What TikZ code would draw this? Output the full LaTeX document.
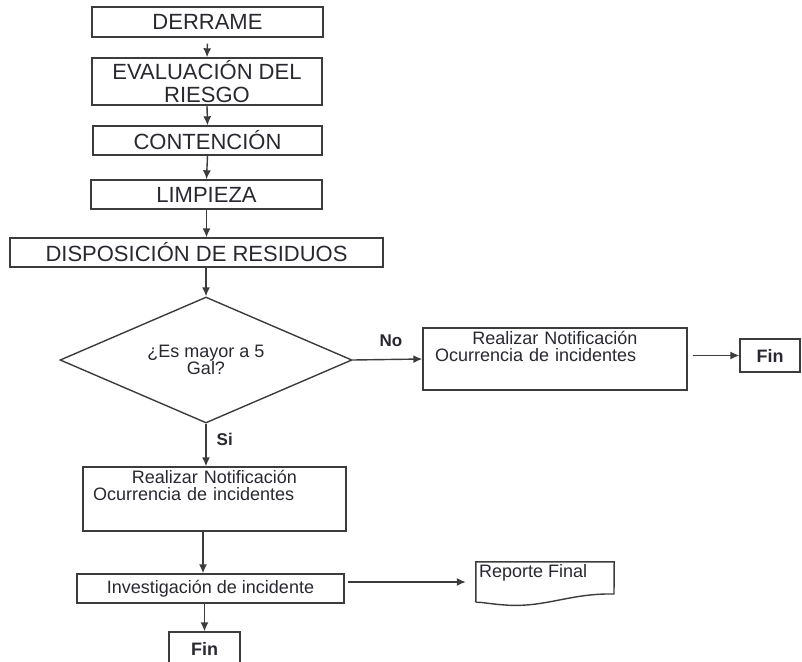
\documentclass[tikz,border=0pt]{standalone}
\usepackage{fontspec}
\setmainfont{Liberation Sans}
\usetikzlibrary{arrows.meta,shapes.geometric}
\definecolor{ink}{RGB}{40,40,48}
\definecolor{edge}{RGB}{60,60,60}
\begin{document}
\begin{tikzpicture}[x=1pt,y=-1pt,
    box/.style={draw=edge, line width=1.4pt, inner sep=0pt, text=ink},
    big/.style={font=\fontsize{22}{23}\selectfont},
    small/.style={font=\fontsize{18}{17}\selectfont},
    tag/.style={font=\fontsize{17}{17}\selectfont\bfseries, text=ink, inner sep=0pt},
    arr/.style={draw=edge, line width=1.4pt, -{Latex[length=9pt,width=8pt]}}]
    \useasboundingbox (0,0) rectangle (802,661);
    \clip (0,0) rectangle (802,661);
    \node[box, big, minimum width=231pt, minimum height=30pt] (derrame) at (207.5,22)
    {DERRAME}; \node[box, big, align=center, minimum width=230pt, minimum height=47pt]
    (eval) at (207,81.5) {EVALUACIÓN DEL\\RIESGO}; \node[box, big, minimum width=229pt,
    minimum height=29pt] (conten) at (207.5,140.5) {CONTENCIÓN}; \node[box, big,
    minimum width=231pt, minimum height=29pt] (limp) at (206.5,194.5) {LIMPIEZA};
    \node[box, big, minimum width=373pt, minimum height=29pt] (dispo) at (196.5,252.5)
    {DISPOSICIÓN DE RESIDUOS};
    \node[box, small, diamond, aspect=2.3, align=center, minimum width=292pt,
    minimum height=126pt] (gal) at (206,360) {¿Es mayor a 5\\Gal?};
    \node[box, minimum width=264pt, minimum height=62pt] (notiNo) at (555,359) {};
    \node[small, text=ink, text width=240pt, align=left, inner sep=0pt, anchor=north]
    (notiNoT) at ([yshift=-4pt]notiNo.north)
    {\makebox[\linewidth]{Realizar Notificación}\\Ocurrencia de incidentes};
    \node[box, font=\fontsize{18}{18}\selectfont\bfseries, minimum width=60pt,
    minimum height=33pt] (finNo) at (770,355.5) {Fin};
    \node[box, minimum width=263pt, minimum height=64pt] (notiSi) at (214.5,499) {};
    \node[small, text=ink, text width=243pt, align=left, inner sep=0pt, anchor=north]
    (notiSiT) at ([yshift=-4pt]notiSi.north)
    {\makebox[\linewidth]{Realizar Notificación}\\Ocurrencia de incidentes};
    \node[box, small, minimum width=267pt, minimum height=29pt] (invest) at (210.5,588.5)
    {Investigación de incidente};
    \node[box, font=\fontsize{18}{18}\selectfont\bfseries, minimum width=71pt,
    minimum height=33pt] (finSi) at (204.5,648.5) {Fin};
    \node[minimum width=138pt, minimum height=40pt, inner sep=0pt] (rep) at (545,582) {};
    \node[small, text=ink, inner sep=0pt, anchor=base west] (repT)
    at ([xshift=3pt,yshift=-16pt]rep.north west) {Reporte Final};
    \draw[draw=edge, line width=1.4pt] (rep.south west) -- (rep.north west) --
    (rep.north east) -- (614,594) .. controls (570,593) and (545,608) .. (505,605)
    .. controls (490,604) and (482,602) .. (rep.south west);
    \draw[arr, shorten <=6pt] (derrame.south) -- (eval.north);
    \draw[arr] (eval.south) -- (conten.north); \draw[arr] (conten.south) --
    (limp.north); \draw[arr] (limp.south) -- (limp.south |- dispo.north);
    \draw[arr] (dispo.south -| gal.north) -- (gal.north);
    \draw[arr] (gal.east) -- (notiNo.west) node[tag, pos=0.55, above=12pt] {No};
    \draw[arr] ([xshift=5pt]notiNo.east |- finNo.west) -- (finNo.west);
    \draw[arr] (gal.south) -- (gal.south |- notiSi.north) node[tag, pos=0.36,
    right=10pt] {Si};
    \draw[arr] ([xshift=-11.5pt]notiSi.south) -- ([xshift=-11.5pt]notiSi.south |-
    invest.north); \draw[arr] ([xshift=3pt]invest.east |- rep.west) --
    ([xshift=-10pt]rep.west); \draw[arr] (invest.south -| finSi.north) -- (finSi.north);
  \end{tikzpicture}
\end{document}
